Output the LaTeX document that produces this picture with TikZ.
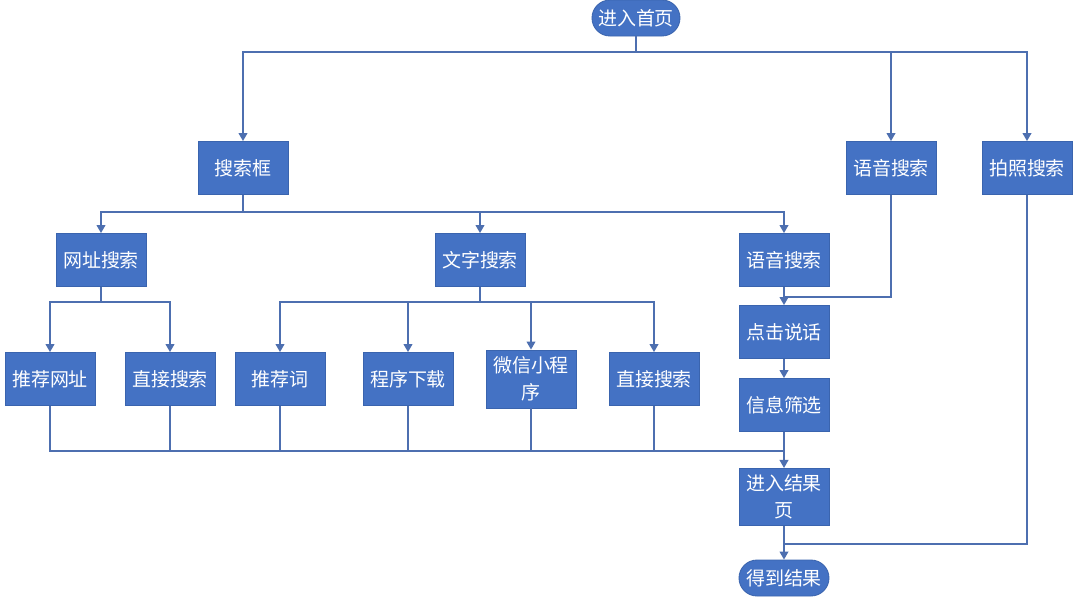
\documentclass[tikz,border=0pt]{standalone}
\usepackage{fontspec}
\newfontfamily\cjk{Noto Sans CJK SC}
\definecolor{BoxBlue}{HTML}{4472C4}
\definecolor{EdgeBlue}{HTML}{3A64AE}
\definecolor{LineBlue}{HTML}{4D6FB0}
\usetikzlibrary{arrows.meta,positioning,calc}
\tikzset{
  procbox/.style={draw=EdgeBlue, fill=BoxBlue, line width=0.6pt, text=white, align=center,
                  font=\cjk\fontsize{13.5}{19}\selectfont, minimum width=2.25cm,
                  minimum height=1.325cm, inner sep=0pt},
  termbox/.style={procbox, rounded corners=0.45cm, minimum height=0.9cm},
  flowline/.style={LineBlue, line width=1pt},
  flowarr/.style={flowline, -{Triangle[length=2mm, width=2.2mm]}}
}

\begin{document}
\begin{tikzpicture}[x=0.025cm, y=-0.025cm]
\useasboundingbox (0,0) rectangle (1080,599);
% top row
\node[termbox, minimum width=2.2cm] (home) at (636,18) {进入首页};
\node[procbox] (sbox) at (243,168) {搜索框};
\node[procbox] (voice) at (891,168) {语音搜索};
\node[procbox] (photo) at (1027,168) {拍照搜索};
% second row
\node[procbox] (url) at (101,260) {网址搜索};
\node[procbox] (word) at (480,260) {文字搜索};
\node[procbox] (voicein) at (784,260) {语音搜索};
% third row
\node[procbox] (recurl) at (50,379) {推荐网址};
\node[procbox] (direct) at (170,379) {直接搜索};
\node[procbox] (recword) at (280,379) {推荐词};
\node[procbox] (download) at (408,379) {程序下载};
\node[procbox, minimum height=1.45cm] (wechat) at (531,379) {微信小程\\序};
\node[procbox] (directw) at (654,379) {直接搜索};
% right column
\node[procbox] (talk) at (784,332) {点击说话};
\node[procbox] (filter) at (784,405) {信息筛选};
\node[procbox, minimum height=1.43cm] (result) at (784,497) {进入结果\\页};
\node[termbox] (final) at (784,578) {得到结果};
% junctions
\coordinate (j1) at (636,52);
\coordinate (j2) at (243,212);
\coordinate (j3) at (101,302);
\coordinate (j4) at (480,302);
\coordinate (j5) at (784,297);
\coordinate (j6) at (784,451);
\coordinate (j7) at (784,544);
% flow lines
\draw[flowline] (home) -- (j1);
\foreach \t in {sbox,voice,photo} \draw[flowarr] (j1) -| (\t);
\draw[flowline] (sbox) -- (j2);
\foreach \t in {url,word,voicein} \draw[flowarr] (j2) -| (\t);
\draw[flowline] (url) -- (j3);
\foreach \t in {recurl,direct} \draw[flowarr] (j3) -| (\t);
\draw[flowline] (word) -- (j4);
\foreach \t in {recword,download,wechat,directw} \draw[flowarr] (j4) -| (\t);
\draw[flowline] (voice) |- (j5);
\draw[flowarr] (voicein) -- (talk);
\draw[flowarr] (talk) -- (filter);
\draw[flowarr] (filter) -- (result);
\draw[flowline] (recurl) |- (j6);
\foreach \s in {direct,recword,download,wechat,directw} \draw[flowline] (\s) -- (\s |- j6);
\draw[flowline] (photo) |- (j7);
\draw[flowarr] (result) -- (final);
\end{tikzpicture}
\end{document}
